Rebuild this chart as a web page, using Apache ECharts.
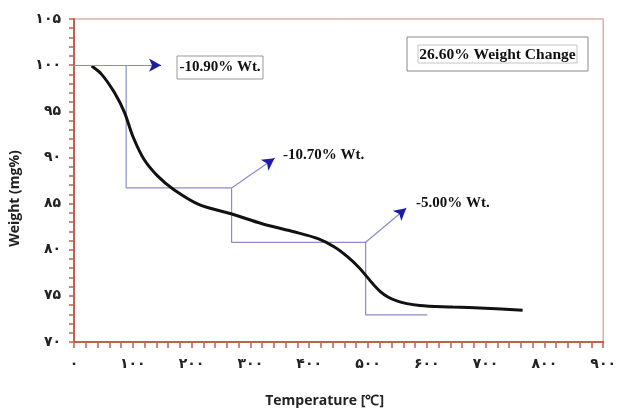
<!DOCTYPE html>
<html>
<head>
<meta charset="utf-8">
<script src="https://cdn.jsdelivr.net/npm/echarts@6/dist/echarts.min.js"></script>
<style>
  html, body { margin: 0; padding: 0; background: #fff; }
  #main { width: 619px; height: 413px; }
</style>
</head>
<body>
<div id="main"></div>
<script>
// TGA curve
const tempC = [30, 47, 69, 86, 100, 119, 142, 170, 214, 267, 320, 376, 415, 443, 466, 485, 521, 549, 588, 644, 699, 763];
const weightPct = [99.9, 99.0, 97.0, 94.85, 92.3, 89.8, 88.0, 86.5, 84.85, 83.9, 82.82, 81.92, 81.2, 80.3, 79.2, 78.05, 75.46, 74.45, 73.95, 73.8, 73.66, 73.45];

// step construction lines
const stepX = [88.7, 88.7, 268, 268, 496, 496, 601];
const stepY = [100, 86.7, 86.7, 80.8, 80.8, 72.95, 72.95];

// arrows: [fromX, fromY, toX, toY]
const arrows = [
  [0, 100, 148, 100],
  [268, 86.7, 341, 89.9],
  [496, 80.8, 565, 84.5]
];

const persianDigits = '۰۱۲۳۴۵۶۷۸۹';
const toPersian = (v) => String(v).replace(/[0-9]/g, (d) => persianDigits[+d]);

const zip = (xs, ys) => xs.map((x, i) => [x, ys[i]]);

const chart = echarts.init(document.getElementById('main'));

const axisColor = '#c0604f';
const tickFont = { fontFamily: 'DejaVu Sans', fontWeight: 'bold', fontSize: 14, color: '#222' };
const nameFont = { fontFamily: 'Open Sans', fontWeight: 'bold', fontSize: 14, color: '#222' };

chart.setOption({
  animation: false,
  grid: {
    left: 72, right: 9, top: 19, bottom: 69,
    show: true, borderColor: '#cf8478', borderWidth: 1
  },
  xAxis: {
    type: 'value', min: 0, max: 900, interval: 100,
    name: 'Temperature [℃]', nameLocation: 'middle', nameGap: 52,
    nameTextStyle: { ...nameFont, padding: [0, 28, 0, 0] },
    axisLine: { show: true, lineStyle: { color: axisColor, width: 2 } },
    axisTick: { show: true, length: 6, lineStyle: { color: axisColor, width: 1.5 } },
    minorTick: { show: true, splitNumber: 5, length: 6, lineStyle: { color: axisColor, width: 1.5 } },
    splitLine: { show: false },
    axisLabel: { ...tickFont, margin: 15, formatter: toPersian }
  },
  yAxis: {
    type: 'value', min: 70, max: 105, interval: 5,
    name: 'Weight (mg%)', nameLocation: 'middle', nameGap: 52,
    nameTextStyle: { ...nameFont, padding: [0, 36, 0, 0] },
    axisLine: { show: true, lineStyle: { color: axisColor, width: 2 } },
    axisTick: { show: true, length: 5, lineStyle: { color: axisColor, width: 1.5 } },
    minorTick: { show: true, splitNumber: 5, length: 5, lineStyle: { color: axisColor, width: 1.5 } },
    splitLine: { show: false },
    axisLabel: { ...tickFont, margin: 13, formatter: toPersian }
  },
  series: [
    {
      type: 'line',
      data: zip(stepX, stepY),
      showSymbol: false,
      lineStyle: { color: '#8a8cc8', width: 1.2 },
      z: 2,
      markLine: {
        silent: true,
        symbol: ['none', 'none'],
        label: { show: false },
        lineStyle: { color: '#8a8cc8', width: 1.2, type: 'solid' },
        data: arrows.map((a) => [{ coord: [a[0], a[1]] }, { coord: [a[2], a[3]] }])
      }
    },
    {
      // dark blue arrow heads on the tips of the arrows
      type: 'line',
      data: [],
      markLine: {
        silent: true,
        symbol: ['none', 'arrow'],
        symbolSize: [10, 12],
        label: { show: false },
        lineStyle: { color: '#1c1ca8', width: 1, type: 'solid' },
        data: arrows.map((a) => [
          { coord: [a[2] - (a[2] - a[0]) * 0.04, a[3] - (a[3] - a[1]) * 0.04] },
          { coord: [a[2], a[3]] }
        ])
      }
    },
    {
      type: 'line',
      data: zip(tempC, weightPct),
      smooth: 0.3,
      showSymbol: false,
      lineStyle: { color: '#111', width: 3 },
      z: 3
    }
  ],
  graphic: [
    { type: 'rect', shape: { x: 177, y: 56, width: 86, height: 23 }, style: { fill: '#fff', stroke: '#999', lineWidth: 1 } },
    { type: 'text', x: 220, y: 67.5, style: { text: '-10.90% Wt.', font: 'bold 15px "Liberation Serif"', fill: '#111', align: 'center', verticalAlign: 'middle' } },
    { type: 'text', x: 283, y: 155, style: { text: '-10.70% Wt.', font: 'bold 15px "Liberation Serif"', fill: '#111', verticalAlign: 'middle' } },
    { type: 'text', x: 416, y: 203, style: { text: '-5.00% Wt.', font: 'bold 15px "Liberation Serif"', fill: '#111', verticalAlign: 'middle' } },
    { type: 'rect', shape: { x: 407, y: 37, width: 181, height: 34 }, style: { fill: '#fff', stroke: '#888', lineWidth: 1 } },
    { type: 'rect', shape: { x: 418, y: 45, width: 159, height: 18 }, style: { fill: '#fff', stroke: '#c4c4c4', lineWidth: 1 } },
    { type: 'text', x: 497.5, y: 54.5, style: { text: '26.60% Weight Change', font: 'bold 15.5px "Liberation Serif"', fill: '#111', align: 'center', verticalAlign: 'middle' } }
  ]
});

window.addEventListener('resize', () => chart.resize());
</script>
</body>
</html>
